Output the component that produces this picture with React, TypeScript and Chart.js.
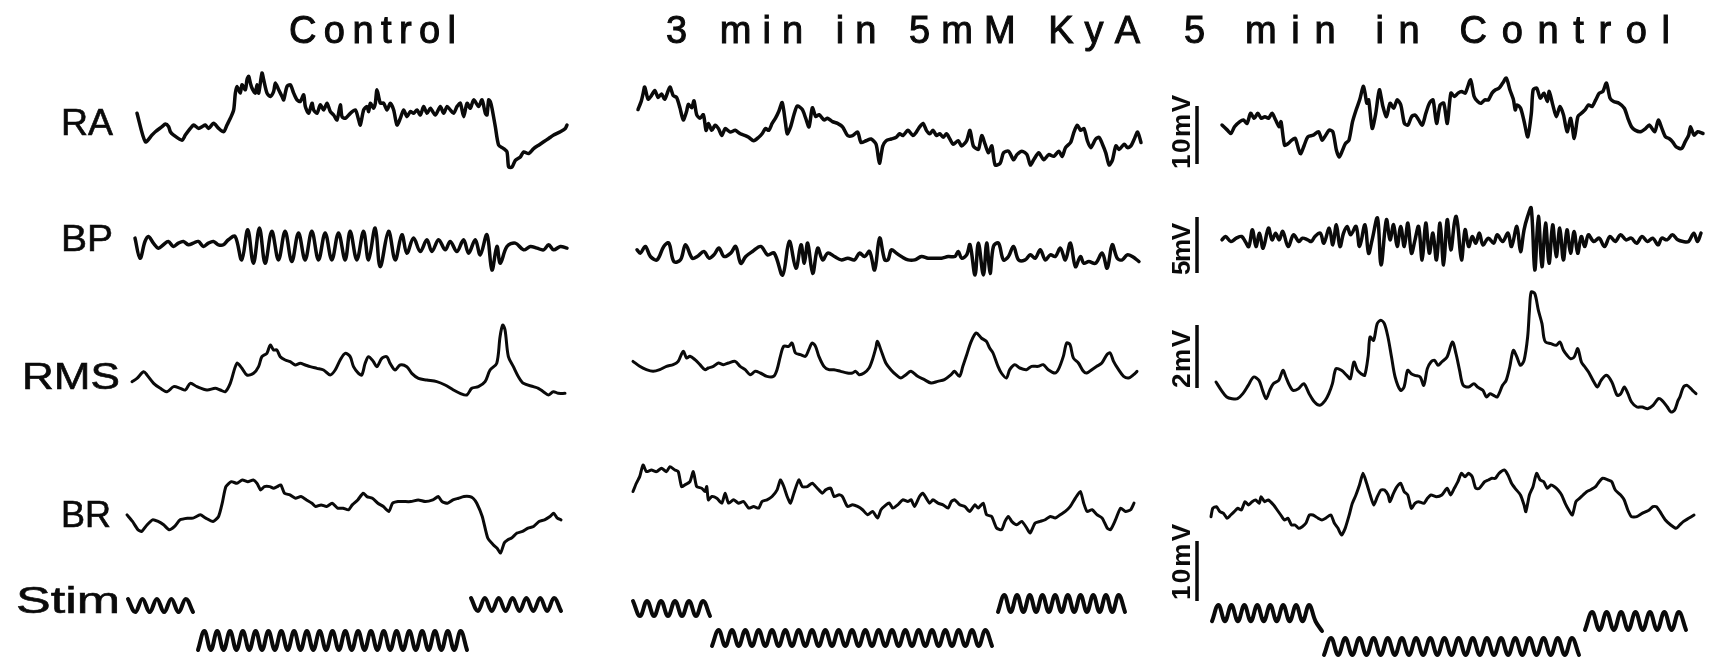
import React, { useEffect, useRef } from "react";
import { Chart, registerables } from "chart.js";

Chart.register(...registerables);

type Pt = [number, number];

// ---------- text ----------
const PANEL_TITLES = ["Control", "3 min in 5mM KyA", "5 min in Control"];
const ROW_LABELS = ["RA", "BP", "RMS", "BR", "Stim"];
const SCALE_LABELS = ["10mV", "5mV", "2mV", "10mV"];

const RA_CONTROL: Pt[] = [[50,200],[75,115],[95,135],[105,145],[125,160],[135,168],[145,160],[150,145],[160,135],[185,120],[195,135],[210,155],[220,165],[235,155],[245,160],[255,165],[265,155],[280,170],[295,155],[310,145],[320,165],[330,185],[340,210],[345,260],[350,280],[360,260],[365,285],[375,270],[380,300],[385,310],[390,290],[395,275],[405,260],[410,285],[415,260],[425,320],[430,300],[440,260],[450,250],[460,265],[465,290],[475,270],[485,250],[490,240],[500,280],[510,285],[520,260],[530,240],[540,235],[550,255],[555,220],[565,200],[575,230],[580,210],[590,200],[600,225],[610,210],[620,230],[630,205],[640,195],[650,180],[660,225],[665,190],[675,185],[690,200],[705,210],[715,180],[720,165],[730,210],[740,220],[745,205],[750,230],[760,215],[765,230],[770,270],[780,230],[790,230],[800,210],[810,230],[820,210],[830,165],[840,185],[850,210],[860,190],[870,205],[880,200],[890,210],[900,195],[910,220],[920,200],[930,215],[945,195],[960,220],[970,200],[980,220],[990,210],[1000,200],[1010,220],[1020,230],[1030,190],[1040,230],[1050,215],[1060,240],[1075,220],[1085,240],[1095,200],[1100,195],[1105,240],[1110,235],[1115,215],[1125,160],[1135,105],[1150,95],[1160,85],[1165,40],[1175,40],[1185,60],[1200,70],[1210,85],[1225,80],[1240,95],[1255,105],[1270,115],[1285,125],[1300,135],[1320,145],[1335,155],[1340,165]];

const BP_CONTROL: Pt[] = [[45,515],[60,455],[75,505],[85,520],[100,500],[115,485],[130,495],[145,505],[160,490],[175,500],[190,505],[205,495],[220,500],[235,505],[250,490],[265,500],[280,505],[295,495],[310,495],[325,510],[345,520],[365,450],[383,540],[400,440],[418,545],[435,440],[455,535],[475,450],[495,535],[515,445],[535,530],[555,450],[575,535],[595,450],[615,530],[635,450],[655,530],[675,450],[690,535],[710,450],[730,535],[745,450],[765,545],[780,430],[805,535],[825,450],[845,525],[860,470],[880,515],[900,475],[920,510],[935,475],[955,510],[975,480],[990,505],[1010,475],[1030,510],[1045,470],[1065,510],[1080,465],[1100,525],[1115,420],[1130,490],[1140,440],[1160,490],[1185,500],[1210,480],[1230,490],[1250,485],[1270,480],[1285,495],[1300,480],[1320,490],[1340,485]];

const RMS_CONTROL: Pt[] = [[35,85],[50,95],[70,115],[80,105],[100,80],[120,65],[140,55],[160,70],[180,65],[195,60],[210,80],[230,70],[260,60],[285,65],[300,60],[315,55],[330,80],[350,140],[365,125],[380,105],[400,110],[415,130],[425,160],[440,170],[450,195],[460,180],[470,180],[480,160],[495,150],[510,145],[525,135],[540,140],[555,135],[570,130],[590,125],[610,120],[630,105],[645,120],[660,150],[675,170],[690,160],[700,130],[715,110],[725,105],[735,140],[745,160],[760,145],[770,130],[785,155],[800,160],[810,140],[825,120],[840,135],[860,130],[875,110],[895,95],[920,90],[950,85],[975,75],[1000,60],[1020,50],[1040,45],[1055,65],[1075,70],[1095,85],[1110,120],[1130,140],[1140,220],[1148,255],[1155,240],[1165,160],[1180,130],[1195,100],[1210,80],[1240,70],[1255,65],[1270,55],[1285,45],[1300,55],[1315,50],[1335,50]];

const BR_CONTROL: Pt[] = [[345,429],[360,409],[375,384],[385,379],[400,399],[415,414],[430,409],[445,399],[460,384],[475,394],[490,414],[510,419],[525,419],[545,429],[560,419],[580,409],[595,424],[605,464],[615,514],[630,529],[645,524],[660,534],[675,529],[690,534],[700,524],[710,504],[720,514],[735,514],[745,509],[755,514],[765,519],[775,494],[790,489],[805,479],[820,484],[835,474],[850,464],[860,454],[875,459],[890,454],[905,464],[920,449],[935,449],[950,444],[960,459],[975,474],[990,494],[1000,484],[1015,479],[1030,464],[1045,454],[1060,439],[1070,464],[1085,469],[1100,469],[1120,469],[1140,474],[1160,469],[1180,474],[1195,484],[1205,469],[1220,464],[1235,474],[1250,479],[1265,484],[1280,484],[1290,479],[1300,464],[1315,424],[1330,359],[1345,339],[1355,329],[1365,314],[1375,344],[1385,354],[1395,359],[1410,374],[1425,379],[1440,389],[1455,394],[1470,409],[1485,414],[1500,424],[1510,434],[1520,419],[1530,414]];

const RA_KYA: Pt[] = [[55,205],[65,230],[70,250],[75,270],[85,235],[95,245],[105,260],[115,240],[125,250],[135,235],[150,270],[160,245],[170,240],[180,210],[190,175],[200,200],[205,220],[215,210],[222,230],[230,190],[240,180],[250,190],[258,145],[265,165],[275,145],[285,160],[295,150],[305,130],[315,150],[330,140],[345,145],[360,135],[375,130],[385,125],[400,115],[415,125],[425,135],[435,150],[445,145],[455,165],[465,180],[475,200],[485,225],[495,165],[500,135],[510,155],[520,190],[530,215],[545,205],[555,180],[565,155],[575,210],[585,185],[595,190],[610,175],[620,180],[635,170],[650,165],[665,155],[680,130],[695,130],[710,140],[720,110],[735,115],[750,120],[765,105],[775,50],[785,100],[795,115],[810,120],[825,125],[835,135],[845,130],[860,145],[875,130],[885,140],[895,155],[905,165],[915,145],[925,135],[935,145],[945,130],[955,135],[965,125],[975,135],[985,120],[995,105],[1010,115],[1020,100],[1035,115],[1045,145],[1055,100],[1070,90],[1080,130],[1090,105],[1100,80],[1110,100],[1120,45],[1135,50],[1145,80],[1160,85],[1175,60],[1185,75],[1200,85],[1215,75],[1225,45],[1235,60],[1250,80],[1265,60],[1280,75],[1295,70],[1310,85],[1320,70],[1330,95],[1345,110],[1355,140],[1365,160],[1375,145],[1385,150],[1395,115],[1405,95],[1420,120],[1430,125],[1440,105],[1450,80],[1460,45],[1470,60],[1480,100],[1490,90],[1505,105],[1515,95],[1525,100],[1535,120],[1545,140],[1555,110]];

const BP_KYA: Pt[] = [[50,480],[60,470],[75,490],[90,460],[110,450],[130,490],[145,500],[160,445],[180,450],[195,495],[215,455],[230,460],[250,475],[265,455],[280,465],[295,485],[310,460],[330,470],[345,490],[360,440],[375,460],[395,475],[420,490],[440,465],[460,470],[485,405],[505,505],[525,425],[540,495],[550,440],[560,500],[575,410],[590,485],[605,450],[620,470],[640,460],[660,450],[680,455],[700,450],[715,470],[730,460],[745,475],[760,420],[775,515],[790,450],[800,450],[810,480],[825,470],[840,460],[860,450],[880,450],[900,460],[920,455],[940,455],[960,455],[980,460],[1000,460],[1010,475],[1020,455],[1035,465],[1045,495],[1060,405],[1070,500],[1085,405],[1095,500],[1105,410],[1115,490],[1130,500],[1145,450],[1160,460],[1175,490],[1190,450],[1210,450],[1225,465],[1240,455],[1255,480],[1270,450],[1285,465],[1300,460],[1315,485],[1330,450],[1345,500],[1360,430],[1375,460],[1385,440],[1400,445],[1420,440],[1440,470],[1455,425],[1470,495],[1485,455],[1500,450],[1515,465],[1530,460],[1550,445]];

const RMS_KYA: Pt[] = [[40,145],[60,130],[80,120],[100,115],[120,120],[140,130],[160,135],[175,145],[190,175],[200,155],[210,160],[225,150],[240,135],[255,120],[265,125],[280,130],[295,140],[310,135],[325,140],[345,145],[360,130],[375,120],[390,105],[405,115],[420,110],[440,100],[460,100],[470,120],[480,160],[490,190],[505,190],[515,200],[525,170],[540,165],[555,160],[565,180],[575,200],[585,190],[595,160],[610,130],[625,120],[640,120],[660,115],[680,110],[695,110],[705,115],[715,105],[730,110],[745,125],[755,150],[765,185],[770,205],[780,180],[795,140],[810,120],[825,105],[840,95],[855,105],[870,115],[890,100],[910,90],[930,80],[950,85],[970,90],[990,105],[1000,115],[1015,100],[1025,130],[1035,160],[1050,205],[1065,230],[1080,215],[1095,205],[1105,185],[1115,170],[1130,130],[1140,110],[1155,95],[1165,120],[1180,135],[1195,125],[1215,120],[1230,130],[1250,130],[1265,135],[1280,120],[1300,110],[1310,120],[1325,160],[1335,200],[1345,195],[1355,155],[1370,140],[1385,115],[1395,110],[1410,120],[1425,130],[1440,140],[1455,165],[1465,170],[1475,145],[1490,120],[1505,100],[1520,95],[1535,105],[1545,115]];

const BR_KYA: Pt[] = [[40,499],[50,524],[60,544],[70,579],[80,559],[95,564],[110,559],[125,569],[140,559],[150,574],[165,564],[175,559],[185,514],[195,519],[210,529],[220,559],[230,514],[245,509],[255,499],[260,514],[265,474],[275,484],[290,479],[305,464],[315,494],[325,464],[340,474],[355,464],[370,469],[385,449],[400,454],[415,449],[425,469],[440,474],[455,484],[470,504],[480,534],[490,514],[500,484],[510,464],[520,494],[535,534],[545,514],[560,514],[575,524],[590,509],[605,494],[615,504],[630,509],[640,484],[655,489],[665,484],[680,454],[695,459],[710,454],[725,444],[740,429],[755,439],[770,419],[780,444],[795,459],[805,464],[815,449],[830,459],[845,474],[860,469],[870,474],[880,454],[895,484],[905,494],[915,479],[925,464],[935,474],[950,464],[965,459],[980,449],[990,469],[1000,474],[1015,459],[1030,454],[1045,439],[1060,459],[1070,449],[1085,464],[1095,429],[1110,424],[1125,389],[1140,384],[1150,409],[1160,424],[1170,409],[1185,399],[1200,409],[1215,389],[1225,374],[1240,404],[1255,409],[1270,414],[1285,424],[1300,419],[1315,429],[1330,439],[1345,454],[1360,479],[1375,499],[1385,464],[1395,439],[1410,444],[1425,429],[1440,419],[1455,389],[1465,384],[1480,414],[1495,449],[1510,439],[1525,444],[1535,464]];

const RA_RECOVERY: Pt[] = [[200,465],[215,450],[225,440],[235,460],[250,475],[260,480],[270,470],[280,500],[290,485],[300,500],[310,485],[320,490],[330,485],[340,500],[350,480],[360,460],[365,475],[375,405],[385,410],[395,420],[405,425],[415,390],[420,380],[430,405],[440,430],[455,435],[470,445],[480,420],[490,435],[500,450],[510,445],[520,390],[528,370],[535,385],[545,410],[555,420],[565,475],[575,510],[585,540],[595,580],[600,560],[605,530],[610,540],[620,455],[630,500],[640,570],[650,520],[660,490],[670,530],[680,515],[690,540],[700,525],[710,470],[720,465],[730,490],[740,495],[750,480],[760,465],[770,500],[780,530],[790,540],[800,470],[810,525],[820,530],[830,470],[840,560],[850,550],[860,560],[870,565],[880,560],[895,600],[905,550],[915,535],[925,530],[935,540],[945,540],[955,560],[965,570],[975,575],[985,590],[995,605],[1005,570],[1015,540],[1020,510],[1025,525],[1035,515],[1045,475],[1055,430],[1065,500],[1070,570],[1080,575],[1090,545],[1100,560],[1110,535],[1115,565],[1125,525],[1135,490],[1145,520],[1155,495],[1165,445],[1175,485],[1185,425],[1195,490],[1205,500],[1215,510],[1225,525],[1235,520],[1245,540],[1255,560],[1265,565],[1275,590],[1285,545],[1295,535],[1310,530],[1325,515],[1335,485],[1345,460],[1355,450],[1370,445],[1385,455],[1395,465],[1410,445],[1420,480],[1430,455],[1440,430],[1450,425],[1460,415],[1470,400],[1485,395],[1495,415],[1505,435],[1510,460],[1520,435],[1530,445],[1545,440]];

const BP_RECOVERY: Pt[] = [[200,120],[210,130],[225,115],[240,125],[255,130],[265,115],[275,100],[285,150],[295,100],[305,140],[315,95],[330,155],[340,120],[350,140],[360,120],[370,145],[385,100],[400,135],[415,115],[425,125],[440,120],[450,115],[460,130],[475,140],[485,110],[500,155],[510,105],[520,165],[530,100],[540,140],[550,160],[560,135],[575,160],[585,100],[600,165],[610,80],[620,120],[635,185],[645,45],[660,180],[670,120],[680,165],[690,100],[700,160],[710,100],[720,170],[730,80],[740,120],[750,160],[760,60],[770,170],[780,80],[790,140],[800,60],[810,170],[820,45],[830,180],[840,90],[850,170],[855,190],[860,160],[870,60],[880,150],[890,100],[900,130],[910,110],[920,140],[930,105],[945,125],[960,110],[970,135],[985,115],[1000,140],[1010,100],[1025,160],[1035,85],[1045,150],[1055,190],[1065,215],[1075,30],[1085,190],[1095,40],[1105,170],[1115,50],[1125,165],[1135,70],[1145,155],[1155,60],[1165,150],[1175,80],[1185,145],[1195,80],[1205,130],[1215,100],[1225,135],[1240,115],[1255,125],[1270,100],[1285,130],[1300,115],[1315,135],[1330,120],[1345,125],[1360,110],[1375,130],[1390,115],[1405,125],[1420,105],[1430,125],[1445,120],[1460,135],[1475,120],[1490,115],[1505,115],[1520,140],[1530,115],[1540,140]];

const RMS_RECOVERY: Pt[] = [[185,115],[200,90],[215,70],[230,65],[245,65],[260,80],[275,105],[290,130],[305,120],[315,90],[325,65],[335,90],[345,110],[360,120],[372,150],[380,130],[390,105],[400,90],[415,95],[430,110],[445,80],[460,55],[475,45],[490,60],[500,80],[510,110],[520,155],[535,150],[550,135],[560,125],[570,175],[580,150],[590,140],[600,135],[610,195],[615,250],[625,240],[635,290],[645,300],[655,290],[665,250],[675,190],[685,130],[700,90],[710,100],[720,150],[730,140],[740,135],[755,130],[765,105],[775,155],[785,175],[795,180],[805,165],[815,175],[830,190],[845,235],[855,200],[865,150],[875,105],[890,100],[905,110],[915,100],[930,90],[940,70],[950,80],[960,75],[970,70],[985,105],[995,120],[1005,160],[1015,210],[1025,190],[1035,165],[1045,180],[1055,250],[1060,330],[1065,385],[1075,380],[1085,330],[1095,290],[1100,250],[1105,235],[1120,230],[1135,225],[1145,235],[1155,210],[1165,195],[1175,185],[1185,190],[1195,215],[1205,175],[1215,160],[1225,145],[1240,115],[1250,100],[1260,120],[1275,135],[1290,115],[1305,75],[1315,80],[1325,100],[1335,80],[1345,55],[1360,40],[1375,40],[1390,35],[1405,45],[1420,65],[1430,60],[1445,40],[1455,25],[1465,30],[1475,60],[1480,70],[1490,100],[1500,105],[1515,90],[1525,80]];

const BR_RECOVERY: Pt[] = [[170,424],[175,449],[185,454],[195,439],[205,434],[215,419],[225,429],[235,439],[245,449],[255,444],[265,469],[275,459],[285,469],[295,474],[305,464],[310,484],[320,469],[330,474],[345,459],[355,444],[365,429],[375,414],[385,419],[395,399],[405,399],[415,389],[425,394],[435,404],[445,429],[455,429],[470,419],[480,414],[490,419],[505,429],[515,404],[525,389],[535,369],[545,389],[555,424],[565,464],[575,489],[585,519],[595,554],[605,524],[615,489],[625,459],[635,484],[645,504],[655,504],[665,489],[670,469],[680,494],[690,514],[700,524],[710,499],[720,489],[730,449],[740,464],[750,469],[765,464],[775,479],[785,489],[800,484],[815,489],[830,509],[840,489],[850,509],[860,529],[870,554],[880,544],[890,554],[900,544],[910,509],[920,509],[935,529],[945,534],[955,539],[965,539],[975,554],[990,564],[1000,549],[1010,524],[1020,509],[1035,489],[1045,459],[1050,439],[1060,489],[1070,514],[1080,554],[1090,534],[1100,529],[1110,509],[1120,519],[1130,514],[1140,504],[1150,489],[1160,464],[1170,444],[1180,429],[1190,469],[1200,479],[1210,489],[1220,499],[1230,504],[1245,514],[1255,529],[1265,539],[1280,534],[1290,529],[1300,504],[1315,489],[1325,474],[1335,444],[1345,424],[1360,424],[1375,434],[1385,439],[1395,444],[1405,454],[1415,454],[1425,439],[1440,414],[1455,399],[1470,389],[1480,399],[1490,409],[1505,419],[1520,429]];

// ---------- stimulus trains (sample values, equally spaced) ----------
const STIM_CONTROL_PRE = [1,0,1,0,1,0,1,0,1,0];
const STIM_CONTROL_TRAIN = [0,1,0,1,0,1,0,1,0,1,0,1,0,1,0,1,0,1,0,1,0,1,0,1,0,1,0,1,0,1,0,1,0,1,0,1,0,1,0,1,0,1,0];
const STIM_CONTROL_POST = [1,0,1,0,1,0,1,0,1,0,1,0,1,0];
const STIM_KYA_PRE = [1,0,1,0,1,0,1,0,1,0,1,0];
const STIM_KYA_TRAIN = [0,1,0,1,0,1,0,1,0,1,0,1,0,1,0,1,0,1,0,1,0,1,0,1,0,1,0,1,0,1,0,1,0,1,0,1,0,1,0,1,0,1,0];
const STIM_KYA_POST = [0,1,0,1,0,1,0,1,0,1,0,1,0,1,0,1,0,1,0,1,0];
const STIM_REC_PRE = [0,1,0,1,0,1,0,1,0,1,0,1,0,1,0,1,0,-0.6];
const STIM_REC_TRAIN = [0,1,0,1,0,1,0,1,0,1,0,1,0,1,0,1,0,1,0,1,0,1,0,1,0,1,0,1,0,1,0,1,0,1,0,1,0];
const STIM_REC_POST = [0,1,0,1,0,1,0,1,0,1,0,1,0,1,0];

// ---------- layout (full-size pixel boxes for each trace) ----------
type Box = { x0: number; x1: number; y0: number; y1: number };
type TraceSpec = { points: Pt[]; box: Box; lw: number; tension: number };

const toPts = (vals: number[]): Pt[] => vals.map((v, i) => [i, v]);

const TRACES: TraceSpec[] = [
  { points: RA_CONTROL, box: { x0: 137, x1: 567, y0: 73, y1: 167 }, lw: 3.5, tension: 0.25 },
  { points: BP_CONTROL, box: { x0: 135, x1: 567, y0: 228, y1: 270 }, lw: 3.5, tension: 0.35 },
  { points: RMS_CONTROL, box: { x0: 132, x1: 565, y0: 325, y1: 395 }, lw: 3, tension: 0.3 },
  { points: BR_CONTROL, box: { x0: 127, x1: 561, y0: 480, y1: 553 }, lw: 3, tension: 0.2 },
  { points: RA_KYA, box: { x0: 638, x1: 1141, y0: 87, y1: 165 }, lw: 3.5, tension: 0.25 },
  { points: BP_KYA, box: { x0: 637, x1: 1139, y0: 238, y1: 275 }, lw: 3.5, tension: 0.35 },
  { points: RMS_KYA, box: { x0: 633, x1: 1137, y0: 333, y1: 383 }, lw: 3, tension: 0.3 },
  { points: BR_KYA, box: { x0: 633, x1: 1134, y0: 465, y1: 533 }, lw: 3, tension: 0.2 },
  { points: RA_RECOVERY, box: { x0: 1222, x1: 1703, y0: 78, y1: 157 }, lw: 3.5, tension: 0.25 },
  { points: BP_RECOVERY, box: { x0: 1222, x1: 1701, y0: 208, y1: 270 }, lw: 3.5, tension: 0.35 },
  { points: RMS_RECOVERY, box: { x0: 1216, x1: 1696, y0: 292, y1: 412 }, lw: 3, tension: 0.3 },
  { points: BR_RECOVERY, box: { x0: 1211, x1: 1694, y0: 470, y1: 535 }, lw: 3, tension: 0.2 },
  { points: toPts(STIM_CONTROL_PRE), box: { x0: 128, x1: 193, y0: 599, y1: 612 }, lw: 4, tension: 0.4 },
  { points: toPts(STIM_CONTROL_TRAIN), box: { x0: 198, x1: 467, y0: 631, y1: 650 }, lw: 4, tension: 0.4 },
  { points: toPts(STIM_CONTROL_POST), box: { x0: 471, x1: 561, y0: 598, y1: 611 }, lw: 4, tension: 0.4 },
  { points: toPts(STIM_KYA_PRE), box: { x0: 633, x1: 710, y0: 601, y1: 616 }, lw: 4, tension: 0.4 },
  { points: toPts(STIM_KYA_TRAIN), box: { x0: 712, x1: 992, y0: 630, y1: 646 }, lw: 4, tension: 0.4 },
  { points: toPts(STIM_KYA_POST), box: { x0: 998, x1: 1125, y0: 595, y1: 612 }, lw: 4, tension: 0.4 },
  { points: toPts(STIM_REC_PRE), box: { x0: 1212, x1: 1322, y0: 605, y1: 631 }, lw: 4, tension: 0.4 },
  { points: toPts(STIM_REC_TRAIN), box: { x0: 1324, x1: 1579, y0: 638, y1: 655 }, lw: 4, tension: 0.4 },
  { points: toPts(STIM_REC_POST), box: { x0: 1585, x1: 1686, y0: 612, y1: 630 }, lw: 4, tension: 0.4 },
];

function Trace({ spec }: { spec: TraceSpec }) {
  const ref = useRef<HTMLCanvasElement>(null);
  const { points, box, lw, tension } = spec;
  const pad = 6;
  const ts = points.map((p) => p[0]);
  const vs = points.map((p) => p[1]);
  const tMin = Math.min(...ts), tMax = Math.max(...ts);
  const vMin = Math.min(...vs), vMax = Math.max(...vs);
  const w = box.x1 - box.x0, h = box.y1 - box.y0;
  const kx = (tMax - tMin) / w;
  const ky = (vMax - vMin) / h;
  const cw = Math.round(w + 2 * pad);
  const ch = Math.round(h + 2 * pad);

  useEffect(() => {
    if (!ref.current) return;
    const chart = new Chart(ref.current, {
      type: "line",
      data: {
        datasets: [
          {
            data: points.map(([x, y]) => ({ x, y })),
            borderColor: "#0a0a0a",
            borderWidth: lw,
            pointRadius: 0,
            tension,
            fill: false,
            borderJoinStyle: "round",
            borderCapStyle: "round",
          } as any,
        ],
      },
      options: {
        animation: false,
        responsive: false,
        maintainAspectRatio: false,
        devicePixelRatio: 1,
        events: [],
        layout: { padding: 0 },
        plugins: { legend: { display: false }, tooltip: { enabled: false }, title: { display: false } },
        scales: {
          x: { type: "linear", display: false, min: tMin - pad * kx, max: tMin - pad * kx + cw * kx },
          y: { type: "linear", display: false, min: vMax + pad * ky - ch * ky, max: vMax + pad * ky },
        },
      },
    });
    return () => chart.destroy();
  }, []);

  return (
    <canvas
      ref={ref}
      width={cw}
      height={ch}
      style={{ position: "absolute", left: box.x0 - pad, top: box.y0 - pad, width: cw, height: ch }}
    />
  );
}

// text placement
const TITLE_POS = [
  { x: 289, w: 167 },
  { x: 666, w: 474 },
  { x: 1184, w: 486 },
];
const LABEL_POS = [
  { x: 61, y: 135, w: 52 },
  { x: 61, y: 251, w: 52 },
  { x: 22, y: 389, w: 98 },
  { x: 61, y: 527, w: 50 },
  { x: 16, y: 613, w: 104 },
];
const SCALE_POS = [
  { cy: 132, len: 74, y0: 106, y1: 164 },
  { cy: 249, len: 52, y0: 217, y1: 273 },
  { cy: 359, len: 58, y0: 325, y1: 388 },
  { cy: 562, len: 76, y0: 541, y1: 601 },
];

export default function App() {
  const font = "'Liberation Sans', Arial, Helvetica, sans-serif";
  return (
    <div style={{ position: "absolute", left: 0, top: 0, width: 1711, height: 658, background: "#fff", overflow: "hidden" }}>
      {TRACES.map((t, i) => (
        <Trace key={i} spec={t} />
      ))}
      <svg width={1711} height={658} style={{ position: "absolute", left: 0, top: 0 }}>
        <g fill="#0a0a0a" stroke="#0a0a0a" strokeWidth={1} fontFamily={font} fontSize={38}>
          {PANEL_TITLES.map((t, i) => (
            <text key={t} x={TITLE_POS[i].x} y={43} textLength={TITLE_POS[i].w} lengthAdjust="spacing">
              {t}
            </text>
          ))}
        </g>
        <g fill="#0a0a0a" stroke="#0a0a0a" strokeWidth={0.6} fontFamily={font} fontSize={37}>
          {ROW_LABELS.map((t, i) => (
            <text key={t} x={LABEL_POS[i].x} y={LABEL_POS[i].y} textLength={LABEL_POS[i].w} lengthAdjust="spacingAndGlyphs">
              {t}
            </text>
          ))}
        </g>
        <g fill="#0a0a0a" fontFamily={font} fontSize={26} fontWeight="bold">
          {SCALE_LABELS.map((t, i) => (
            <text
              key={i}
              transform={`translate(1190,${SCALE_POS[i].cy}) rotate(-90)`}
              x={0}
              y={0}
              textAnchor="middle"
              textLength={SCALE_POS[i].len}
              lengthAdjust="spacing"
            >
              {t}
            </text>
          ))}
        </g>
        <g stroke="#0a0a0a" strokeWidth={3.5}>
          {SCALE_POS.map((s, i) => (
            <line key={i} x1={1197} x2={1197} y1={s.y0} y2={s.y1} />
          ))}
        </g>
      </svg>
    </div>
  );
}
